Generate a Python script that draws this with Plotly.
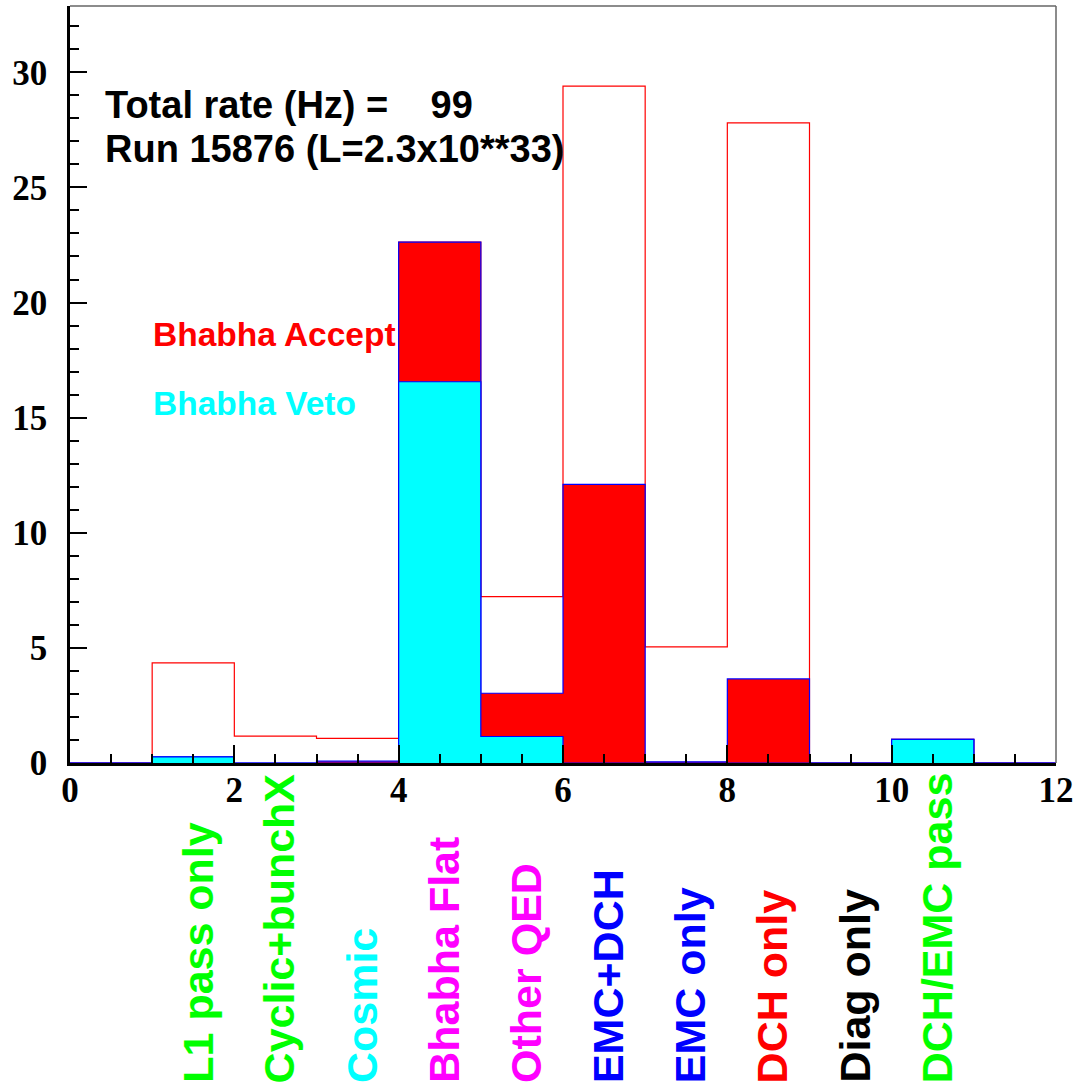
import plotly.graph_objects as go

# ---- data ----
bin_edges = [0, 1, 2, 3, 4, 5, 6, 7, 8, 9, 10, 11, 12]
total_rate = [0, 4.35, 1.17, 1.07, 22.62, 7.23, 29.4, 5.04, 27.8, 0, 1.03, 0]
bhabha_accept = [0, 0.27, 0, 0.08, 22.62, 3.03, 12.1, 0.05, 3.65, 0, 1.03, 0]
bhabha_veto = [0, 0.27, 0, 0.0, 16.56, 1.15, 0, 0, 0, 0, 1.03, 0]

category_labels = ["L1 pass only", "Cyclic+bunchX", "Cosmic", "Bhabha Flat", "Other QED",
                   "EMC+DCH", "EMC only", "DCH only", "Diag only", "DCH/EMC pass"]
category_centers = [1.5, 2.5, 3.5, 4.5, 5.5, 6.5, 7.5, 8.5, 9.5, 10.5]
category_colors = ["#00ff00", "#00ff00", "#00ffff", "#ff00ff", "#ff00ff",
                   "#0000ff", "#0000ff", "#ff0000", "#000000", "#00ff00"]

title_line1 = "Total rate (Hz) =\u00a0\u00a0\u00a0\u00a099"
title_line2 = "Run 15876 (L=2.3x10**33)"

W, H = 1079, 1087
ML, MR, MT, MB = 70, 23, 6, 324
YMAX = 32.88


def step(vals):
    return vals + [0]


fig = go.Figure()
fig.add_trace(go.Scatter(x=bin_edges, y=step(total_rate), mode="lines",
                         line=dict(color="#ff0000", width=1.2, shape="hv"),
                         showlegend=False, hoverinfo="skip"))
fig.add_trace(go.Scatter(x=bin_edges, y=step(bhabha_accept), mode="lines",
                         line=dict(color="#0000ff", width=1.2, shape="hv"),
                         fill="tozeroy", fillcolor="#ff0000",
                         showlegend=False, hoverinfo="skip"))
fig.add_trace(go.Scatter(x=bin_edges, y=step(bhabha_veto), mode="lines",
                         line=dict(color="#0000ff", width=1.2, shape="hv"),
                         fill="tozeroy", fillcolor="#00ffff",
                         showlegend=False, hoverinfo="skip"))

tickfont = dict(family="Liberation Serif", size=35, color="black", weight="bold")

fig.update_xaxes(range=[0, 12], showgrid=False, zeroline=False,
                 showline=True, linecolor="black", linewidth=2.5,
                 ticks="inside", ticklen=18, tickwidth=2, tickcolor="black",
                 tick0=0, dtick=2, tickfont=tickfont, ticklabelstandoff=-6,
                 minor=dict(ticks="inside", ticklen=9, tickwidth=2, tickcolor="black",
                            dtick=0.5, showgrid=False))
fig.update_yaxes(range=[0, YMAX], showgrid=False, zeroline=False,
                 showline=True, linecolor="black", linewidth=2.5,
                 ticks="inside", ticklen=17, tickwidth=2, tickcolor="black",
                 tick0=0, dtick=5, tickfont=tickfont, ticklabelstandoff=13,
                 minor=dict(ticks="inside", ticklen=9, tickwidth=2, tickcolor="black",
                            dtick=1, showgrid=False))

# frame top/right
fig.add_shape(type="line", xref="paper", yref="paper", x0=0, x1=1, y0=1, y1=1,
              line=dict(color="#666666", width=1.5))
fig.add_shape(type="line", xref="paper", yref="paper", x0=1, x1=1, y0=0, y1=1,
              line=dict(color="#666666", width=1.5))

plot_h = H - MT - MB
big = dict(family="Liberation Sans", size=38, color="black", weight="bold")
fig.add_annotation(x=0.40, y=28.6, xref="x", yref="y", text=title_line1, showarrow=False,
                   xanchor="left", yanchor="middle", font=big)
fig.add_annotation(x=0.40, y=26.65, xref="x", yref="y", text=title_line2, showarrow=False,
                   xanchor="left", yanchor="middle", font=big)
fig.add_annotation(x=0.99, y=18.6, xref="x", yref="y", text="Bhabha Accept", showarrow=False,
                   xanchor="left", yanchor="middle",
                   font=dict(family="Liberation Sans", size=33.5, color="#ff0000", weight="bold"))
fig.add_annotation(x=0.99, y=15.6, xref="x", yref="y", text="Bhabha Veto", showarrow=False,
                   xanchor="left", yanchor="middle",
                   font=dict(family="Liberation Sans", size=33.5, color="#00ffff", weight="bold"))

ybot = -(1085 - (H - MB)) / plot_h
for lab, xc, col in zip(category_labels, category_centers, category_colors):
    fig.add_annotation(x=xc, y=ybot, xref="x", yref="paper", text=lab, showarrow=False,
                       textangle=-90, xanchor="center", yanchor="bottom", xshift=4,
                       font=dict(family="Liberation Sans", size=43, color=col, weight="bold"))

fig.update_layout(width=W, height=H, margin=dict(l=ML, r=MR, t=MT, b=MB),
                  paper_bgcolor="white", plot_bgcolor="white")

fig.write_html("out.html", config={"displayModeBar": False},
               post_script="document.body.style.margin='0';document.body.style.overflow='hidden';")
